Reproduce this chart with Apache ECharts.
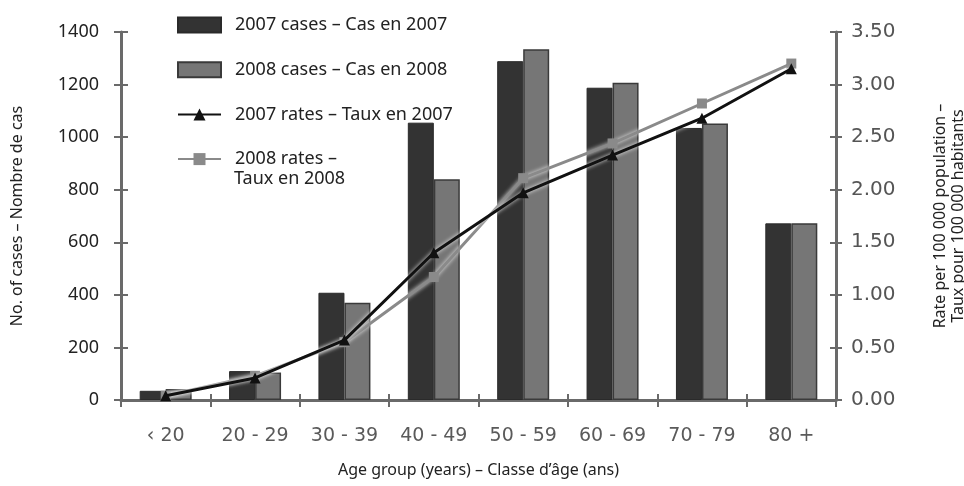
<!DOCTYPE html>
<html>
<head>
<meta charset="utf-8">
<script src="https://cdn.jsdelivr.net/npm/echarts@6/dist/echarts.min.js"></script>
<style>html,body{margin:0;padding:0;background:#fff;}#c{width:964px;height:486px;}</style>
</head>
<body>
<div id="c"></div>
<script>
var categories = ['\u2039 20', '20 - 29', '30 - 39', '40 - 49', '50 - 59', '60 - 69', '70 - 79', '80 +'];
var cases2007 = [35, 110, 408, 1055, 1289, 1188, 1035, 672];
var cases2008 = [42, 105, 370, 840, 1334, 1207, 1052, 672];
var rates2007 = [0.04, 0.21, 0.57, 1.40, 1.97, 2.33, 2.68, 3.15];
var rates2008 = [0.04, 0.23, 0.55, 1.17, 2.11, 2.44, 2.82, 3.20];
var leftTicks = [0, 200, 400, 600, 800, 1000, 1200, 1400];
var rightTicks = [0, 0.5, 1, 1.5, 2, 2.5, 3, 3.5];

var chart = echarts.init(document.getElementById('c'), null, {renderer: 'canvas'});
var axisColor = '#6a6a6a';
var sans = '"Noto Sans", sans-serif';
var verd = '"DejaVu Sans", sans-serif';

var names = ['2007 cases \u2013 Cas en 2007', '2008 cases \u2013 Cas en 2008', '2007 rates \u2013 Taux en 2007', '2008 rates \u2013 Taux en 2008'];

var option = {
  animation: false,
  backgroundColor: '#ffffff',
  grid: {left: 121, right: 128, top: 32, bottom: 86, containLabel: false, outerBoundsMode: 'none'},
  legend: {
    orient: 'vertical',
    left: 172,
    top: 10,
    itemWidth: 43,
    itemHeight: 15,
    itemGap: 24.7,
    textStyle: {fontFamily: sans, fontSize: 18, color: '#222', padding: [0, 0, 0, 9], lineHeight: 20},
    formatter: function (n) { return n === names[3] ? '2008 rates \u2013' : n; },
    data: [
      {name: names[0], icon: 'rect'},
      {name: names[1], icon: 'rect'},
      {name: names[2]},
      {name: names[3]}
    ]
  },
  graphic: [{
    type: 'text', left: 234, top: 170,
    style: {text: 'Taux en 2008', font: '18px "Noto Sans", sans-serif', fill: '#222'}
  }],
  xAxis: [{
    type: 'category',
    data: categories,
    boundaryGap: true,
    name: 'Age group (years) \u2013 Classe d\u2019\u00e2ge (ans)',
    nameLocation: 'middle',
    nameGap: 62,
    nameTextStyle: {fontFamily: sans, fontSize: 16, color: '#222'},
    axisLine: {lineStyle: {color: axisColor, width: 3}},
    axisTick: {show: true, interval: 0, length: 7, lineStyle: {color: axisColor, width: 2}},
    axisLabel: {interval: 0, fontFamily: verd, fontSize: 19, color: '#5a5a5a', margin: 27},
    splitLine: {show: false}
  }, {
    type: 'category',
    data: categories,
    position: 'bottom',
    boundaryGap: true,
    axisLine: {show: false},
    axisTick: {show: true, interval: 0, inside: true, length: 6, lineStyle: {color: axisColor, width: 2}},
    axisLabel: {show: false},
    splitLine: {show: false}
  }],
  yAxis: [{
    type: 'value', min: 0, max: 1400, interval: 200, position: 'left',
    name: 'No. of cases \u2013 Nombre de cas',
    nameLocation: 'middle', nameRotate: 90, nameGap: 96,
    nameTextStyle: {fontFamily: sans, fontSize: 16, color: '#222'},
    axisLine: {show: true, lineStyle: {color: axisColor, width: 3}},
    axisTick: {show: true, length: 7, lineStyle: {color: axisColor, width: 2}},
    axisLabel: {fontFamily: sans, fontSize: 18, color: '#222', margin: 22,
      formatter: function (v) { return leftTicks.indexOf(v) >= 0 ? String(v) : ''; }},
    splitLine: {show: false}
  }, {
    type: 'value', min: 0, max: 3.5, interval: 0.5, position: 'right',
    name: 'Rate per 100 000 population \u2013\nTaux pour 100 000 habitants',
    nameLocation: 'middle', nameRotate: 90, nameGap: 95,
    nameTextStyle: {fontFamily: sans, fontSize: 16, color: '#222', lineHeight: 18},
    axisLine: {show: true, lineStyle: {color: axisColor, width: 3}},
    axisTick: {show: true, length: 6, lineStyle: {color: axisColor, width: 2}},
    axisLabel: {fontFamily: verd, fontSize: 20, color: '#555', margin: 15,
      formatter: function (v) { return rightTicks.indexOf(v) >= 0 ? v.toFixed(2) : ''; }},
    splitLine: {show: false}
  }, {
    type: 'value', min: 0, max: 1400, interval: 200, position: 'left',
    axisLine: {show: false},
    axisTick: {show: true, inside: true, length: 7, lineStyle: {color: axisColor, width: 2}},
    axisLabel: {show: false}, splitLine: {show: false}
  }, {
    type: 'value', min: 0, max: 3.5, interval: 0.5, position: 'right',
    axisLine: {show: false},
    axisTick: {show: true, inside: true, length: 6, lineStyle: {color: axisColor, width: 2}},
    axisLabel: {show: false}, splitLine: {show: false}
  }],
  series: [{
    name: names[0], type: 'bar', yAxisIndex: 0, data: cases2007,
    barWidth: 26, barGap: '0%',
    itemStyle: {color: '#333333', borderColor: '#2a2a2a', borderWidth: 1}
  }, {
    name: names[1], type: 'bar', yAxisIndex: 0, data: cases2008,
    barWidth: 26, barGap: '0%',
    itemStyle: {color: '#767676', borderColor: '#3a3a3a', borderWidth: 1.5}
  }, {
    name: names[2], type: 'line', yAxisIndex: 1, data: rates2007,
    symbol: 'triangle', symbolSize: 11, z: 4,
    lineStyle: {color: '#111', width: 3, shadowColor: 'rgba(255,255,255,0.9)', shadowBlur: 4},
    itemStyle: {color: '#111'}
  }, {
    name: names[3], type: 'line', yAxisIndex: 1, data: rates2008,
    symbol: 'rect', symbolSize: 10, z: 3,
    lineStyle: {color: '#8a8a8a', width: 3, shadowColor: 'rgba(255,255,255,0.9)', shadowBlur: 4},
    itemStyle: {color: '#8a8a8a'}
  }]
};
chart.setOption(option);
</script>
</body>
</html>
